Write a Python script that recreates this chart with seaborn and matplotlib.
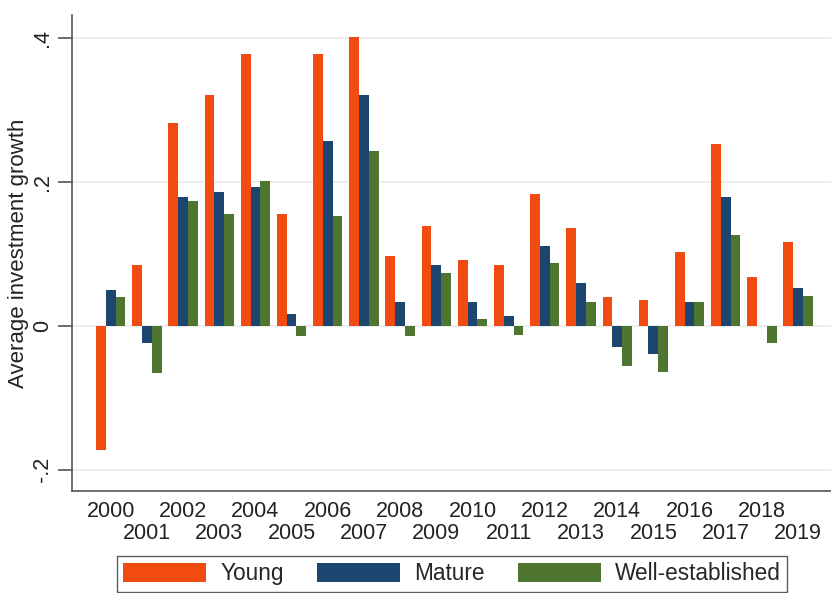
import matplotlib
matplotlib.use("Agg")
import matplotlib.pyplot as plt
import seaborn as sns
import pandas as pd

years = list(range(2000, 2020))
young = [-0.173, 0.085, 0.282, 0.321, 0.378, 0.156, 0.378, 0.402, 0.097, 0.138,
         0.091, 0.085, 0.183, 0.136, 0.040, 0.036, 0.103, 0.252, 0.068, 0.116]
mature = [0.050, -0.024, 0.179, 0.186, 0.193, 0.017, 0.257, 0.321, 0.033, 0.084,
          0.033, 0.013, 0.111, 0.059, -0.029, -0.039, 0.033, 0.179, -0.001, 0.052]
well = [0.040, -0.065, 0.174, 0.156, 0.201, -0.014, 0.153, 0.243, -0.014, 0.073,
        0.010, -0.013, 0.087, 0.033, -0.056, -0.064, 0.033, 0.126, -0.024, 0.041]
groups = ["Young", "Mature", "Well-established"]
colors = ["#F24B12", "#1C4670", "#4E7630"]
ytick_vals = [-0.2, 0.0, 0.2, 0.4]
ytick_labels = ["-.2", "0", ".2", ".4"]

df = pd.DataFrame({
    "year": years * 3,
    "value": young + mature + well,
    "group": [groups[0]] * 20 + [groups[1]] * 20 + [groups[2]] * 20,
})

sns.set_style("white")
plt.rcParams["font.family"] = ["Liberation Sans", "DejaVu Sans"]
FS = 15.5
LFS = 16.3
TXT = "#222222"

fig = plt.figure(figsize=(8.31, 5.93), dpi=100)
ax = fig.add_axes([72 / 831, 1 - 491 / 593, 1 - 72 / 831, (491 - 15) / 593])

sns.barplot(data=df, x="year", y="value", hue="group", hue_order=groups,
            palette=colors, width=0.81, gap=0, saturation=1, linewidth=0,
            ax=ax, legend=True, zorder=3)

ax.set_xlim(-1.07, 19.91)
ax.set_ylim(-0.2297, 0.432)
ax.set_yticks(ytick_vals)
ax.set_yticklabels(ytick_labels, rotation=90, va="center", fontsize=FS, color=TXT)

even_pos = [i for i in range(len(years)) if i % 2 == 0]
odd_pos = [i for i in range(len(years)) if i % 2 == 1]
ax.set_xticks(even_pos)
ax.set_xticklabels([str(years[i]) for i in even_pos], fontsize=FS, color=TXT)
ax.set_xticks(odd_pos, minor=True)
ax.set_xticklabels([str(years[i]) for i in odd_pos], minor=True, fontsize=FS, color=TXT)
ax.tick_params(axis="x", which="major", length=0, pad=7)
ax.tick_params(axis="x", which="minor", length=0, pad=23)
ax.tick_params(axis="y", length=10, width=1.2, color="#555555", pad=3.5, left=True)

ax.grid(axis="y", which="major", color="#EAEAEA", linewidth=1.2, zorder=0)
ax.grid(axis="x", which="both", visible=False)
ax.set_axisbelow(True)
for s in ["top", "right"]:
    ax.spines[s].set_visible(False)
for s in ["left", "bottom"]:
    ax.spines[s].set_color("#555555")
    ax.spines[s].set_linewidth(1.2)

ax.set_xlabel("")
ax.set_ylabel("Average investment growth", fontsize=16, color=TXT, labelpad=2)

handles, labels = ax.get_legend_handles_labels()
ax.legend_.remove()
leg = fig.legend(handles, labels, loc="upper left",
                 bbox_to_anchor=(117 / 831, 1 - 556 / 593), ncol=3, fontsize=LFS,
                 frameon=True, fancybox=False, shadow=False, borderaxespad=0,
                 borderpad=0.28, handlelength=3.67, handleheight=0.93,
                 handletextpad=0.62, columnspacing=1.46)
leg.get_frame().set_edgecolor("#333333")
leg.get_frame().set_linewidth(1.0)

fig.savefig("out.png", dpi=100)
